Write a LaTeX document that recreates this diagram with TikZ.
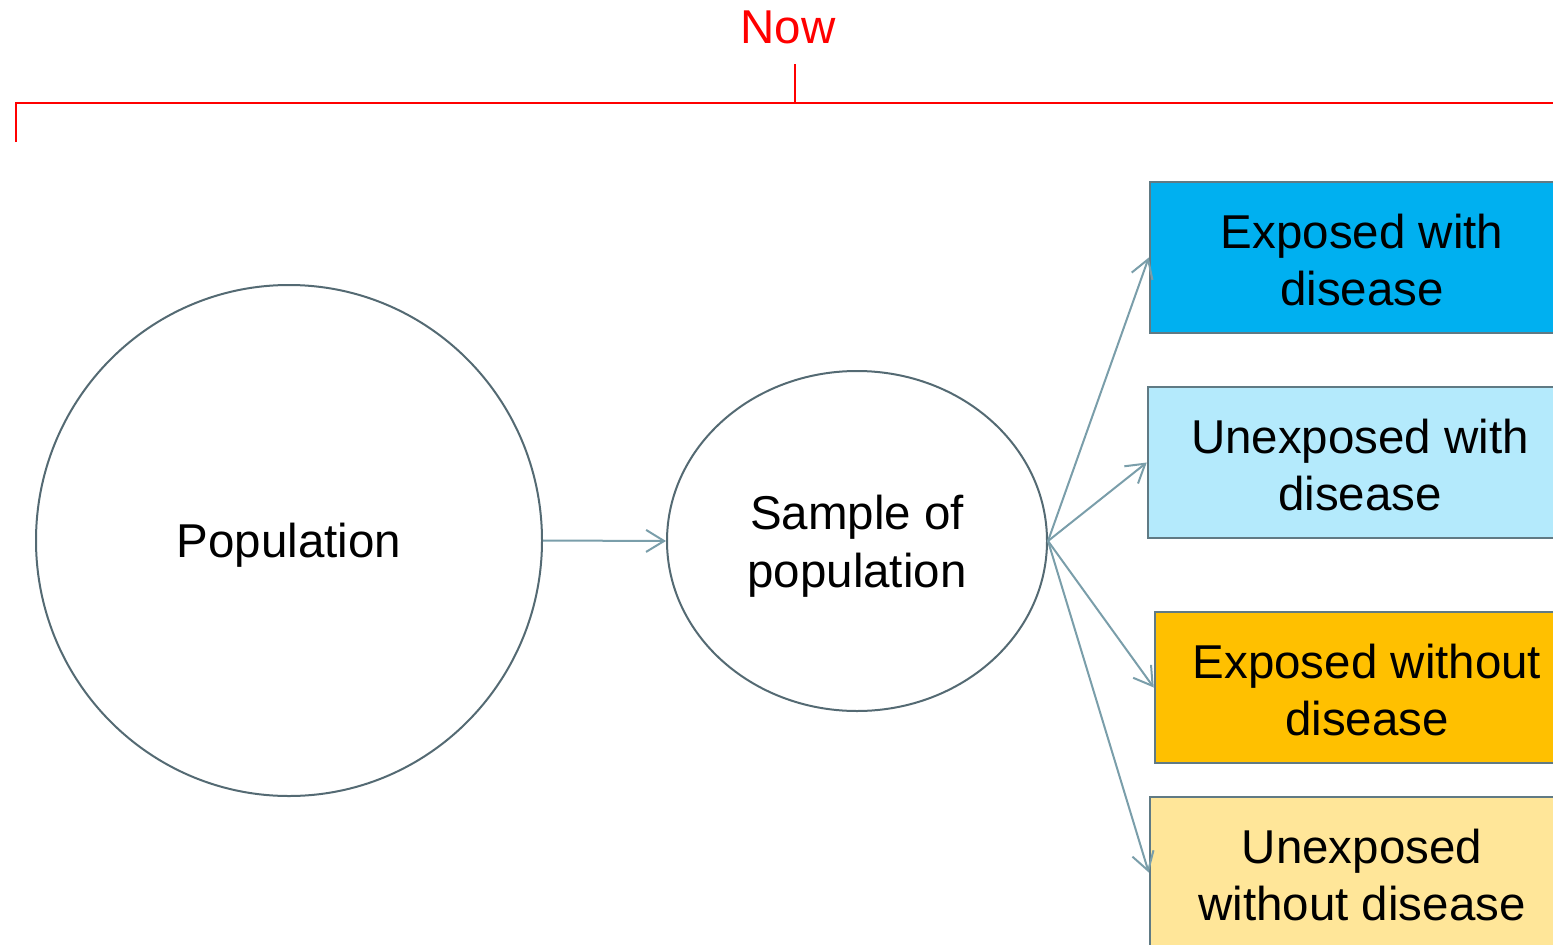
\documentclass[tikz,border=0pt]{standalone}
\usepackage{fontspec}
\setmainfont{Liberation Sans}
\usetikzlibrary{arrows.meta,shapes.geometric}
\definecolor{edgegrey}{RGB}{84,106,115}
\definecolor{linkgrey}{RGB}{122,158,170}
\definecolor{boxedge}{RGB}{96,122,132}
\definecolor{nowred}{RGB}{255,0,0}
\definecolor{fillA}{RGB}{0,176,240}
\definecolor{fillB}{RGB}{180,234,252}
\definecolor{fillC}{RGB}{255,192,0}
\definecolor{fillD}{RGB}{255,230,153}
\begin{document}
\begin{tikzpicture}[x=1pt,y=-1pt,
  every node/.style={font=\fontsize{47.5}{57.5}\selectfont, inner sep=0pt, align=center},
  bubble/.style={draw=edgegrey, line width=2pt},
  groupbox/.style={draw=boxedge, line width=2.5pt, minimum width=424pt, minimum height=151pt},
  link/.style={draw=linkgrey, line width=2pt, -{Straight Barb[length=18pt,width=22pt,line width=2pt]}},
  bracket/.style={draw=nowred, line width=2pt}]
\useasboundingbox (0,0) rectangle (1553,945);
\clip (0,0) rectangle (1553,945);

% time bracket
\node[text=nowred, anchor=base] (now) at (788,43) {Now};
\coordinate (tick) at (795,64);
\coordinate (tickfoot) at (795,103);
\coordinate (leftfoot) at (16,142);
\coordinate (leftcorner) at (16,103);
\coordinate (rightend) at (1560,103);
\draw[bracket] (leftfoot) -- (leftcorner) -- (rightend);
\draw[bracket] (tick) -- (tickfoot);

% population and sample
\node[bubble, ellipse, minimum width=506pt, minimum height=511pt] (pop) at (289,540.5) {};
\node[bubble, ellipse, minimum width=380pt, minimum height=340pt] (samp) at (857,541) {};
\node (poptext) at ([yshift=-5pt]pop.center) {Population};
\node (samptext) at ([yshift=-5pt]samp.center) {Sample of\\population};

% outcome groups
\node[groupbox, fill=fillA] (b1) at (1362,257.5) {};
\node[groupbox, fill=fillB] (b2) at (1360,462.5) {};
\node[groupbox, fill=fillC] (b3) at (1367,687.5) {};
\node[groupbox, fill=fillD] (b4) at (1362,872.5) {};
\node (t1) at ([yshift=-2.5pt]b1.center) {Exposed with\\disease};
\node (t2) at ([yshift=-2.5pt]b2.center) {Unexposed with\\disease};
\node (t3) at ([yshift=-2.5pt]b3.center) {Exposed without\\disease};
\node (t4) at ([yshift=-2.5pt]b4.center) {Unexposed\\without disease};

% connectors
\draw[link] (pop.east) -- (samp.west);
\draw[link] (samp.east) -- (b1.west);
\draw[link] (samp.east) -- (b2.west);
\draw[link] (samp.east) -- (b3.west);
\draw[link] (samp.east) -- (b4.west);
\end{tikzpicture}
\end{document}
